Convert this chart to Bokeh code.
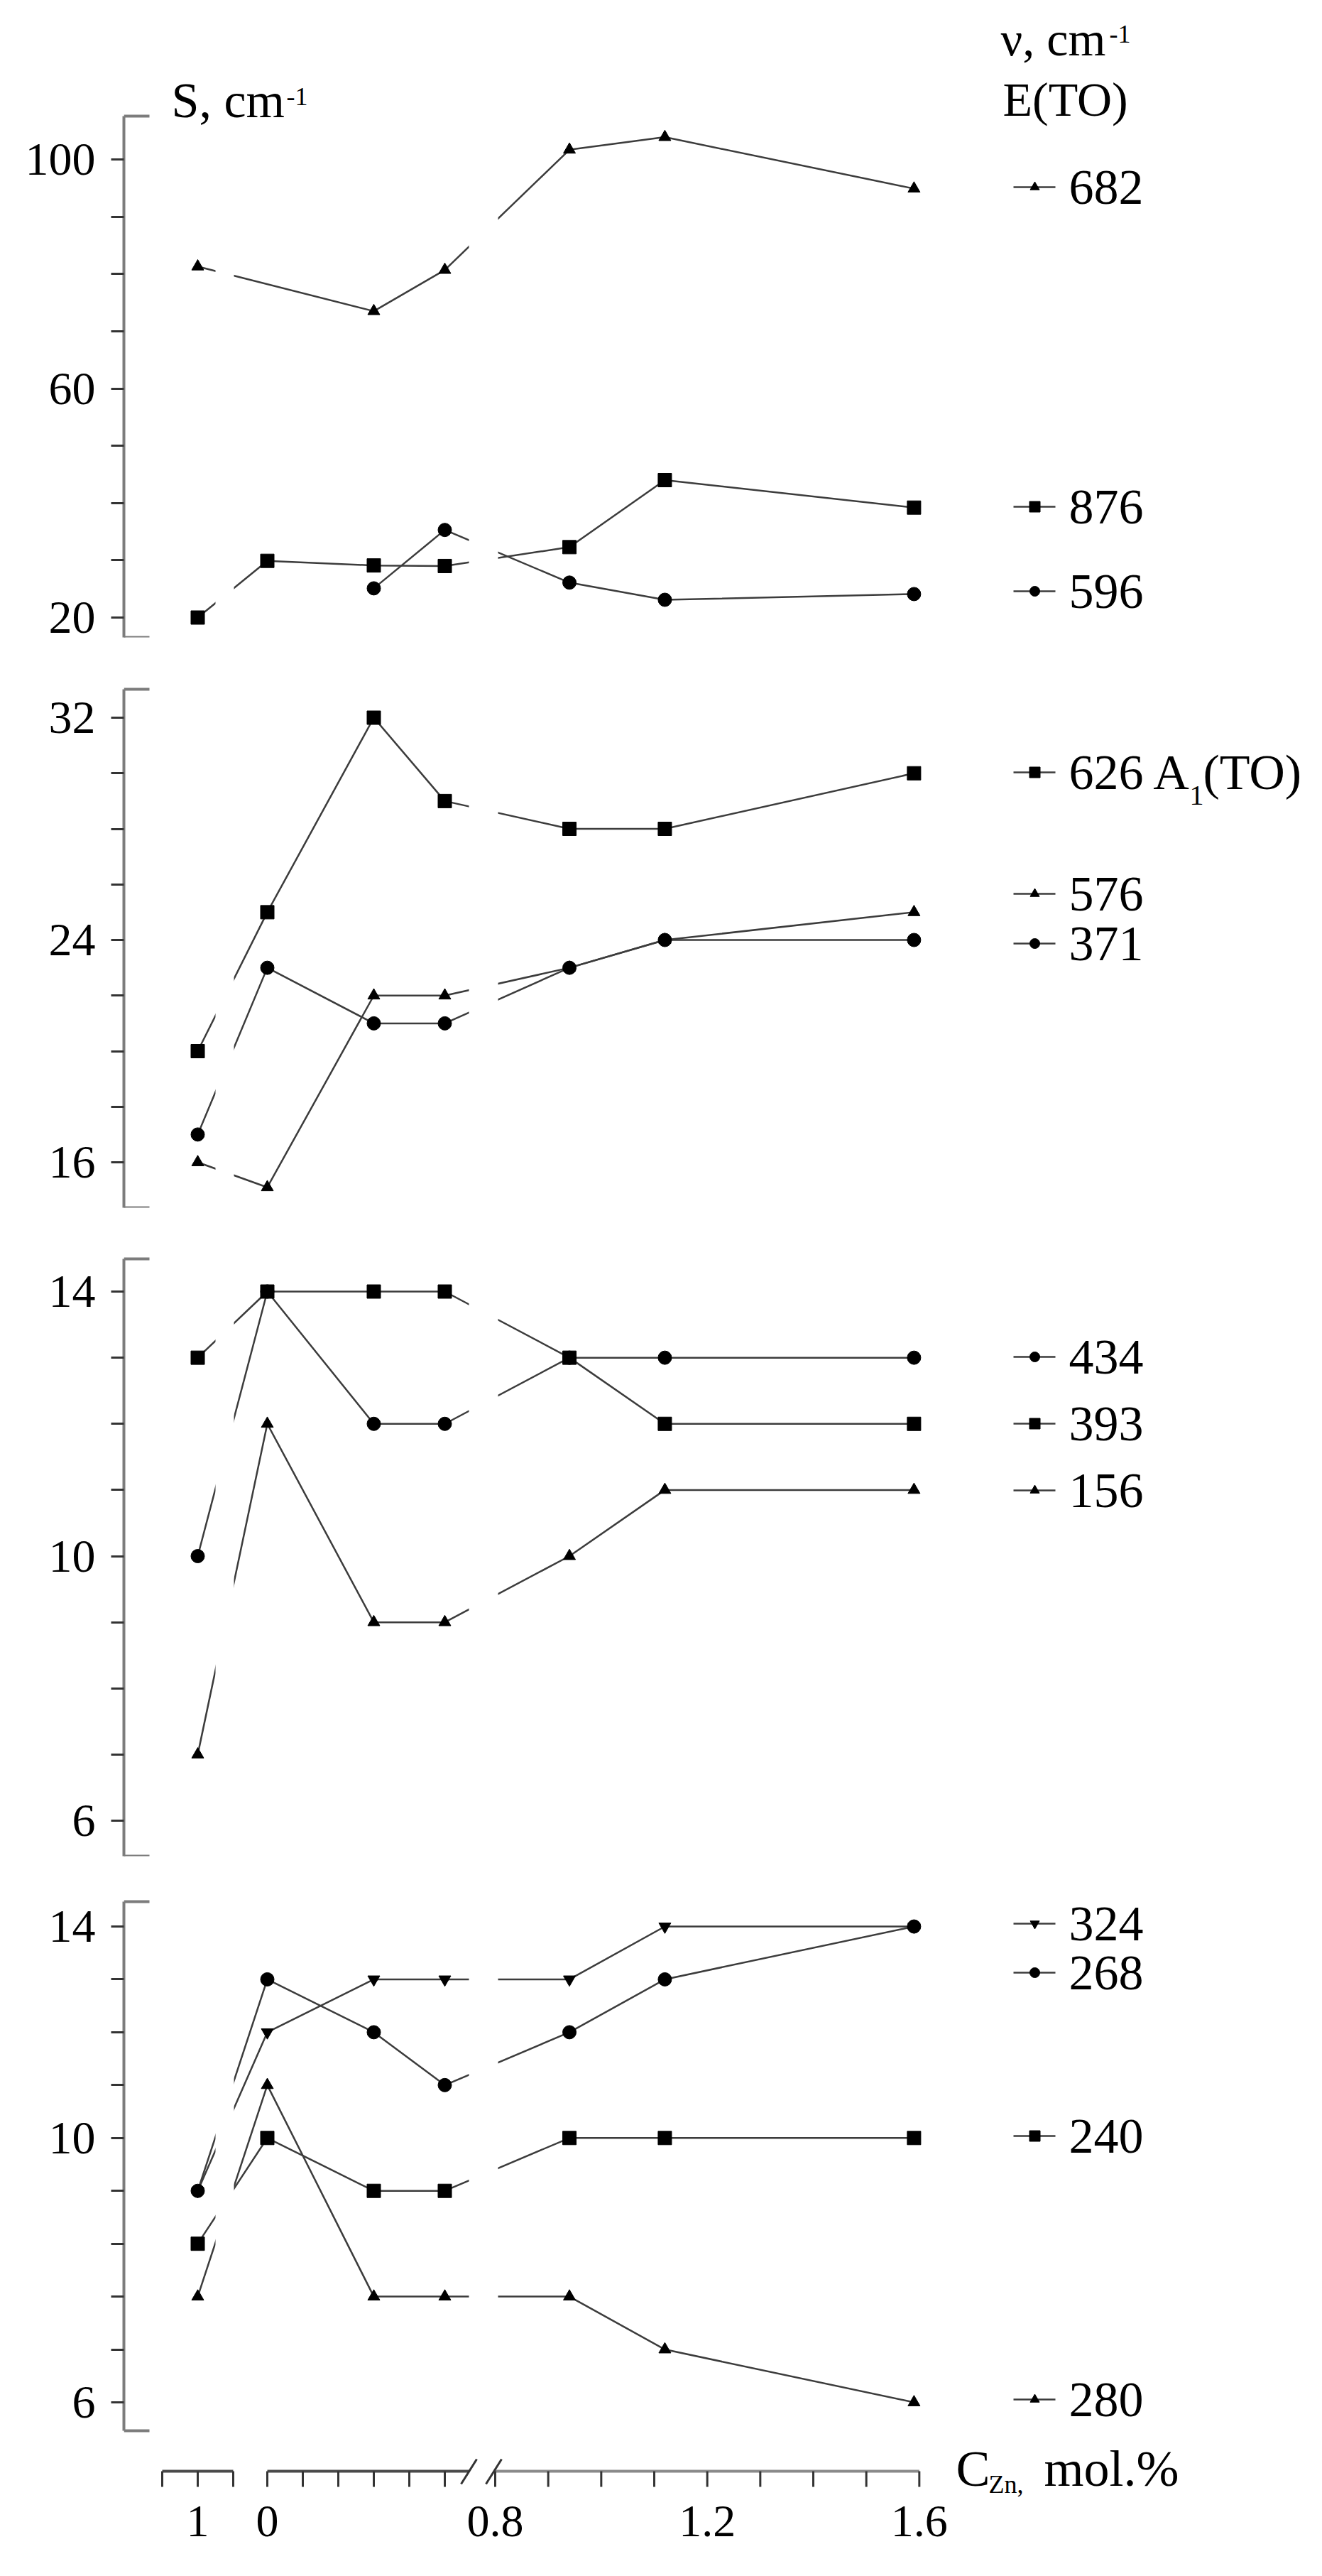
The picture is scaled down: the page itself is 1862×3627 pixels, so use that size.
import math
from bokeh.plotting import figure
from bokeh.models import Range1d, FixedTicker
from bokeh.layouts import column
from bokeh.embed import file_html
from bokeh.resources import INLINE
from bokeh.core.properties import value

nan = float("nan")

# ---------------- data ----------------
# concentration of each sample and the piece of the broken axis it sits on
conc = [1.0, 0.0, 0.3, 0.5, 0.94, 1.12, 1.59]
segment = ["a", "b", "b", "b", "c", "c", "c"]

# panel 1 : E(TO) modes, S in cm-1
e682 = [81.3, nan, 73.5, 80.7, 101.7, 103.9, 94.9]
e876 = [20.0, 29.9, 29.1, 29.0, 32.3, 44.0, 39.2]
e596 = [nan, nan, 25.1, 35.3, 26.1, 23.1, 24.1]
# panel 2
a626 = [20.0, 25.0, 32.0, 29.0, 28.0, 28.0, 30.0]
b576 = [16.0, 15.1, 22.0, 22.0, 23.0, 24.0, 25.0]
c371 = [17.0, 23.0, 21.0, 21.0, 23.0, 24.0, 24.0]
# panel 3
d434 = [10, 14, 12, 12, 13, 13, 13]
d393 = [13, 14, 14, 14, 13, 12, 12]
d156 = [7, 12, 9, 9, 10, 11, 11]
# panel 4
f324 = [9, 12, 13, 13, 13, 14, 14]
f268 = [9, 13, 12, 11, 12, 13, 14]
f240 = [8, 10, 9, 9, 10, 10, 10]
f280 = [7, 11, 7, 7, 7, 6, 5]

# y ticks of each panel
p1_major, p1_minor = [20, 60, 100], [30, 40, 50, 70, 80, 90]
p2_major, p2_minor = [16, 24, 32], [18, 20, 22, 26, 28, 30]
p3_major, p3_minor = [6, 10, 14], [7, 8, 9, 11, 12, 13]
p4_major, p4_minor = [5, 10, 14], [6, 7, 8, 9, 11, 12, 13]
p4_overrides = {5: "6"}

# x ticks of the broken axis
x_ticks_a = [0.9, 1.0, 1.1]
x_ticks_b = [0.0, 0.1, 0.2, 0.3, 0.4, 0.5]
x_ticks_c = [0.8, 0.9, 1.0, 1.1, 1.2, 1.3, 1.4, 1.5, 1.6]
x_tick_labels = [("a", 1.0, "1"), ("b", 0.0, "0"), ("c", 0.8, "0.8"),
                 ("c", 1.2, "1.2"), ("c", 1.6, "1.6")]

# ---------------- layout / style ----------------
W = 1846
LEFT = 174
XL, XR = 182, 1854
SEG_MAP = {"a": (286.0, 1.0, 500.0), "b": (384.0, 0.0, 500.0), "c": (705.0, 0.8, 746.67)}
GAPS = [(311, 337), (668, 709)]
FONT = "Liberation Serif"
LINE_COLOR = "#3c3c3c"
AXIS_COLOR = "#7c7c7c"
TICK_COLOR = "#333333"
MSIZE = {"square": 19, "circle": 19, "triangle": 17, "inverted_triangle": 17}
LSIZE = {"square": 15, "circle": 14, "triangle": 13, "inverted_triangle": 13}


def xpos(seg, c):
    o, c0, k = SEG_MAP[seg]
    return o + (c - c0) * k


def txt(p, x, y, s, size, align="left"):
    p.text(x=[x], y=[y], text=[s], text_font=value(FONT), text_font_size=f"{size}px",
           text_align=align, text_baseline="middle", text_color="black")


class Panel:
    """frame_top / frame_bot / axis_top / axis_bot in page pixels of the reference;
    (ref_val, ref_px) one tick value and its pixel row; ppu pixels per unit."""

    def __init__(self, frame_top, frame_bot, border_bottom, axis_top, axis_bot,
                 ref_val, ref_px, ppu, major, minor, overrides, series):
        self.ref_val, self.ref_px, self.ppu = ref_val, ref_px, ppu
        v = self.v
        height = int(round(frame_bot - frame_top)) + border_bottom
        p = figure(width=W, height=height, x_range=Range1d(XL, XR),
                   y_range=Range1d(v(frame_bot), v(frame_top)),
                   output_backend="svg", toolbar_location=None,
                   x_axis_location=None, y_axis_location="left",
                   min_border_left=LEFT, min_border_right=0, min_border_top=0,
                   min_border_bottom=border_bottom)
        for g in p.grid:
            g.visible = False
        p.outline_line_color = None
        p.background_fill_color = "white"
        p.border_fill_color = "white"
        ylo, yhi = v(axis_bot), v(axis_top)
        ax = p.yaxis[0]
        ax.bounds = (ylo, yhi)
        ax.ticker = FixedTicker(ticks=major, minor_ticks=minor)
        ax.axis_line_color = AXIS_COLOR
        ax.axis_line_width = 4
        ax.major_tick_line_color = TICK_COLOR
        ax.major_tick_line_width = 3
        ax.major_tick_out = 18
        ax.major_tick_in = 0
        ax.minor_tick_line_color = TICK_COLOR
        ax.minor_tick_line_width = 3
        ax.minor_tick_out = 18
        ax.minor_tick_in = 0
        ax.major_label_text_font = FONT
        ax.major_label_text_font_size = "66px"
        ax.major_label_text_color = "black"
        ax.major_label_standoff = 22
        if overrides:
            ax.major_label_overrides = overrides
        # end stubs of the axis
        p.segment(x0=[XL, XL], y0=[yhi, ylo], x1=[XL + 36, XL + 36], y1=[yhi, ylo],
                  line_color=AXIS_COLOR, line_width=4)
        pts = []
        for name, vals, marker, ly in series:
            xs = [xpos(s, c) for s, c, val in zip(segment, conc, vals) if not math.isnan(val)]
            ys = [val for val in vals if not math.isnan(val)]
            pts.append((xs, ys, marker))
            p.line(xs, ys, line_color=LINE_COLOR, line_width=2.5)
        # the breaks of the concentration axis cut the curves
        p.quad(left=[g[0] for g in GAPS], right=[g[1] for g in GAPS], bottom=ylo, top=yhi,
               fill_color="white", line_color=None)
        for xs, ys, marker in pts:
            p.scatter(xs, ys, marker=marker, size=MSIZE[marker],
                      fill_color="black", line_color="black")
        # right-hand keys
        for name, vals, marker, ly in series:
            yy = v(ly)
            p.line([1435, 1494], [yy, yy], line_color=LINE_COLOR, line_width=2.5)
            p.scatter([1465], [yy], marker=marker, size=LSIZE[marker],
                      fill_color="black", line_color="black")
            if name == "626 A1(TO)":
                txt(p, 1513, yy, "626 A", 70)
                txt(p, 1683, v(ly + 32), "1", 40)
                txt(p, 1702, yy, "(TO)", 70)
            else:
                txt(p, 1513, yy, name, 70)
        self.p = p

    def v(self, px):
        return self.ref_val + (self.ref_px - px) / self.ppu


# key rows are given in reference pixel rows
P1 = Panel(8, 905, 55, 171, 905, 100, 232, 8.0625, p1_major, p1_minor, None,
           [("682", e682, "triangle", 271), ("876", e876, "square", 721),
            ("596", e596, "circle", 840)])
P2 = Panel(960, 1708, 52, 978, 1708, 32, 1018, 39.125, p2_major, p2_minor, None,
           [("626 A1(TO)", a626, "square", 1095), ("576", b576, "triangle", 1266),
            ("371", c371, "circle", 1336)])
P3 = Panel(1760, 2621, 40, 1780, 2621, 14, 1826, 93.125, p3_major, p3_minor, None,
           [("434", d434, "circle", 1918), ("393", d393, "square", 2012),
            ("156", d156, "triangle", 2106)])
P4 = Panel(2661, 3619, 0, 2685, 3430, 14, 2720, 74.444, p4_major, p4_minor, p4_overrides,
           [("324", f324, "inverted_triangle", 2716), ("268", f268, "circle", 2785),
            ("240", f240, "square", 3015), ("280", f280, "triangle", 3386)])

# header texts (inside the first panel, above its axis)
h, v = P1.p, P1.v
txt(h, 249, v(149), "S, cm", 70)
txt(h, 411, v(143), "-1", 36)
txt(h, 1417, v(62), "\u03bd, cm", 68)
txt(h, 1570, v(55), "-1", 36)
txt(h, 1420, v(147), "E(TO)", 68)

# broken concentration axis (below the last panel)
q, v = P4.p, P4.v
AY = 3487
q.segment(x0=[xpos("a", x_ticks_a[0]), xpos("b", x_ticks_b[0])], y0=[v(AY)] * 2,
          x1=[xpos("a", x_ticks_a[-1]), 668], y1=[v(AY)] * 2,
          line_color="#4a4a4a", line_width=4)
q.segment(x0=[703], y0=[v(AY)], x1=[xpos("c", x_ticks_c[-1])], y1=[v(AY)],
          line_color="#8a8a8a", line_width=4)
tx = ([xpos("a", c) for c in x_ticks_a] + [xpos("b", c) for c in x_ticks_b]
      + [xpos("c", c) for c in x_ticks_c])
q.segment(x0=tx, y0=[v(AY)] * len(tx), x1=tx, y1=[v(AY + 22)] * len(tx),
          line_color=TICK_COLOR, line_width=3)
q.segment(x0=[657, 692], y0=[v(3505)] * 2, x1=[679, 714], y1=[v(3470)] * 2,
          line_color=TICK_COLOR, line_width=3)
for seg, c, lab in x_tick_labels:
    txt(q, xpos(seg, c), v(3557), lab, 64, align="center")
txt(q, 1354, v(3483), "C", 72)
txt(q, 1400, v(3505), "Zn,", 36)
txt(q, 1478, v(3483), "mol.%", 72)

layout = column(P1.p, P2.p, P3.p, P4.p, spacing=0)
open("out.html", "w").write(file_html(layout, INLINE))
